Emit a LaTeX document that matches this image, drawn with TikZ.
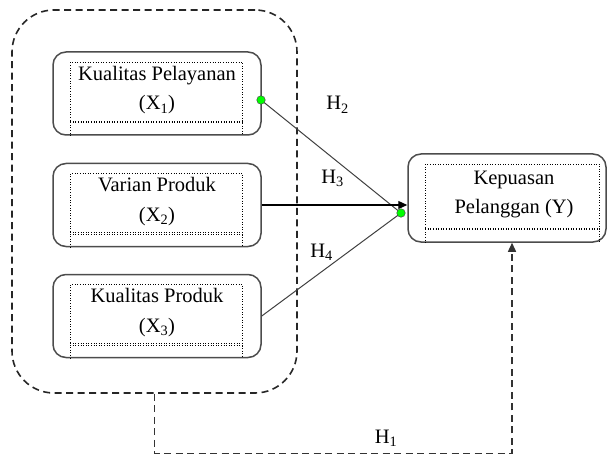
\documentclass[tikz,border=0pt]{standalone}
\usepackage{fontspec}
\setmainfont{Liberation Serif}
\usetikzlibrary{arrows.meta}
\begin{document}
\begin{tikzpicture}[x=1pt,y=-1pt,
  lbl/.style={font=\fontsize{20.5}{28}\selectfont, inner sep=0pt, anchor=base},
  varbox/.style={draw=black!70, line width=1.5pt, rounded corners=13pt, minimum width=208pt, minimum height=83pt, inner sep=0pt},
  ybox/.style={draw=black!70, line width=1.5pt, rounded corners=13pt, minimum width=198pt, minimum height=88pt, inner sep=0pt},
  groupbox/.style={draw=black!85, line width=1.6pt, dash pattern=on 7pt off 4.5pt, rounded corners=42pt, minimum width=285pt, minimum height=383pt, inner sep=0pt},
  h1line/.style={draw=black!80, line width=1.4pt, dash pattern=on 7pt off 4.5pt},
  innerdot/.style={draw=black, line width=0.6pt, dotted},
  link/.style={draw=black!75, line width=1pt},
  arr/.style={-{Triangle[length=9pt,width=8pt]}},
  gdot/.style={circle, fill=green, draw=black!70, line width=0.5pt, minimum size=8.5pt, inner sep=0pt},
]
\useasboundingbox (0,0) rectangle (609,454);

% group box
\node[groupbox] (grp) at (154.5,201.5) {};

% variable boxes
\node[varbox] (x1) at (157,93.5) {};
\node[varbox] (x2) at (157,205) {};
\node[varbox] (x3) at (157,316) {};
\node[ybox] (yb) at (507,198) {};

% inner dotted frames
\foreach \b in {x1,x2,x3}{
  \draw[innerdot] ([xshift=18pt]\b.south west) -- ([xshift=18pt,yshift=-11pt]\b.north west)
     -- ([xshift=-19pt,yshift=-11pt]\b.north east) -- ([xshift=-19pt]\b.south east);
  \draw[innerdot] ([xshift=18pt,yshift=-70pt]\b.north west) -- ([xshift=-19pt,yshift=-70pt]\b.north east);
  \draw[innerdot] ([xshift=18pt,yshift=-71.5pt]\b.north west) -- ([xshift=-19pt,yshift=-71.5pt]\b.north east);
}
\draw[innerdot] ([xshift=18pt]yb.south west) -- ([xshift=18pt,yshift=-11pt]yb.north west)
   -- ([xshift=-7pt,yshift=-11pt]yb.north east) -- ([xshift=-7pt]yb.south east);
\draw[innerdot] ([xshift=18pt,yshift=-75pt]yb.north west) -- ([xshift=-7pt,yshift=-75pt]yb.north east);
\draw[innerdot] ([xshift=18pt,yshift=-76.5pt]yb.north west) -- ([xshift=-7pt,yshift=-76.5pt]yb.north east);

% texts
\node[lbl] (t1a) at (157,80.5) {Kualitas Pelayanan};
\node[lbl] (t1b) at (157,110) {(X\textsubscript{1})};
\node[lbl] (t2a) at (157,191.5) {Varian Produk};
\node[lbl] (t2b) at (157,221) {(X\textsubscript{2})};
\node[lbl] (t3a) at (157,302.5) {Kualitas Produk};
\node[lbl] (t3b) at (157,332) {(X\textsubscript{3})};
\node[lbl] (tya) at (514,185) {Kepuasan};
\node[lbl] (tyb) at (514,213.5) {Pelanggan (Y)};

% connectors
\coordinate (d1) at (261,100);
\coordinate (d2) at (401,213);
\draw[link] (d1) -- (d2);
\draw[link] (x3.east) -- (d2);
\draw[black, line width=1.2pt, arr] (x2.east) -- (yb.west |- x2.east);
\node[gdot] (g1) at (d1) {};
\node[gdot] (g2) at (d2) {};

% H1 dashed connector
\draw[h1line, arr] (grp.south) -- ++(0,59.5) -| ([xshift=5pt]yb.south);

% hypothesis labels
\node[lbl] (h2) at (337.5,110) {H\textsubscript{2}};
\node[lbl] (h3) at (332.5,183) {H\textsubscript{3}};
\node[lbl] (h4) at (321.5,257) {H\textsubscript{4}};
\node[lbl] (h1) at (386,443) {H\textsubscript{1}};
\end{tikzpicture}
\end{document}
